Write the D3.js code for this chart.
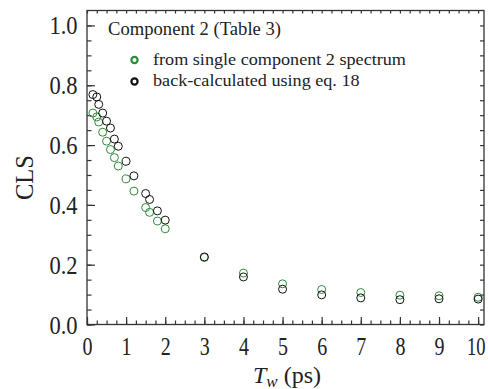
<!DOCTYPE html>
<html><head><meta charset="utf-8">
<script src="https://cdn.jsdelivr.net/npm/d3@7"></script>
<style>body{margin:0;background:#fff}svg{display:block}text{font-family:"Liberation Serif","Times New Roman",serif;fill:#222}</style>
</head><body>
<svg id="c" width="488" height="389"></svg>
<script>
const tw1 = [0.15,0.25,0.3,0.4,0.5,0.6,0.7,0.8,1.0,1.2,1.5,1.6,1.8,2.0,3,4,5,6,7,8,9,10];
const clsSingle = [0.707,0.694,0.677,0.643,0.613,0.585,0.558,0.530,0.487,0.446,0.391,0.375,0.346,0.320,0.224,0.172,0.136,0.117,0.107,0.098,0.096,0.091];
const clsBack   = [0.769,0.761,0.736,0.707,0.680,0.657,0.620,0.596,0.546,0.497,0.438,0.418,0.380,0.349,0.226,0.159,0.118,0.099,0.089,0.083,0.086,0.085];
const xTicks = [0,1,2,3,4,5,6,7,8,9,10];
const yTicks = [0.0,0.2,0.4,0.6,0.8,1.0];
const seriesNames = ["from single component 2 spectrum","back-calculated using eq. 18"];
const legendTitle = "Component 2 (Table 3)";

const svg = d3.select("#c");
const L=87,R=484,T=10.5,B=324.5;
const x = d3.scaleLinear().domain([0,10.15]).range([L,R]);
const y = d3.scaleLinear().domain([0,1.05]).range([B,T]);
const axisCol="#333";

svg.append("rect").attr("x",L).attr("y",T).attr("width",R-L).attr("height",B-T)
  .attr("fill","none").attr("stroke",axisCol).attr("stroke-width",1.3);

const xMinor = d3.range(0,10.15,0.25);
const yMinor = d3.range(0,1.05,0.05);
function tickAxis(axisGen, tr){ const g=svg.append("g").attr("transform",tr).call(axisGen); g.select(".domain").remove(); g.selectAll("line").attr("stroke",axisCol).attr("stroke-width",1.2); g.attr("font-family",null); return g; }
function squeeze(sel,f){ sel.each(function(){ const w=this.getComputedTextLength(); d3.select(this).attr("textLength",w*f).attr("lengthAdjust","spacingAndGlyphs"); }); }

tickAxis(d3.axisBottom(x).tickValues(xMinor).tickSize(-4).tickFormat(""),`translate(0,${B})`);
const gx = tickAxis(d3.axisBottom(x).tickValues(xTicks).tickSize(-7.5).tickFormat(d3.format("d")),`translate(0,${B})`);
gx.selectAll("text").attr("font-size",25).attr("y",12.5).attr("dy","0.71em").style("font-family","Liberation Serif").attr("fill","#222")
  .attr("transform",d=> d===10 ? "translate(-2.5,0) scale(0.74,1)" : "scale(0.8,1)");
tickAxis(d3.axisTop(x).tickValues(xMinor).tickSize(-3).tickFormat(""),`translate(0,${T})`);
tickAxis(d3.axisLeft(y).tickValues(yMinor).tickSize(-4.5).tickFormat(""),`translate(${L},0)`);
const gy = tickAxis(d3.axisLeft(y).tickValues(yTicks).tickSize(-8).tickFormat(d3.format(".1f")),`translate(${L},0)`);
gy.selectAll("text").attr("font-size",25).attr("x",-9.5).attr("dy","0.34em").style("font-family","Liberation Serif").attr("fill","#222");
squeeze(gy.selectAll("text"),0.9);
tickAxis(d3.axisRight(y).tickValues(yMinor).tickSize(-4).tickFormat(""),`translate(${R},0)`);

const green="#2e8b3c";
function plot(vals,col){
  svg.append("g").selectAll("circle").data(tw1.map((t,i)=>[t,vals[i]])).join("circle")
    .attr("cx",d=>x(d[0])).attr("cy",d=>y(d[1])).attr("r",4)
    .attr("fill","none").attr("stroke",col).attr("stroke-width",1);
}
plot(clsSingle,green);
plot(clsBack,"#111");

const lt = svg.append("text").attr("x",108).attr("y",35).attr("font-size",19).text(legendTitle);
lt.attr("textLength",173).attr("lengthAdjust","spacingAndGlyphs");
let legF = null;
[[green,60],["#111",81.5]].forEach((c,i)=>{
  svg.append("circle").attr("cx",134.5).attr("cy",c[1]).attr("r",3.1).attr("fill","none").attr("stroke",c[0]).attr("stroke-width",2.2);
  const t = svg.append("text").attr("x",153).attr("y",c[1]+4.5).attr("font-size",16.5).text(seriesNames[i]);
  if (legF===null) legF = 253/t.node().getComputedTextLength();
  squeeze(t, legF);
});

svg.append("text").attr("transform",`translate(33,${(T+B)/2+10}) rotate(-90)`).attr("text-anchor","middle").attr("font-size",26).attr("textLength",45).attr("lengthAdjust","spacingAndGlyphs").text("CLS");
const xt = svg.append("text").attr("x",253).attr("y",382.5).attr("font-size",24);
xt.append("tspan").attr("font-style","italic").text("T");
xt.append("tspan").attr("font-style","italic").attr("font-size",17).attr("dy",4).text("w");
xt.append("tspan").attr("dy",-4).text(" (ps)");
</script>
</body></html>
